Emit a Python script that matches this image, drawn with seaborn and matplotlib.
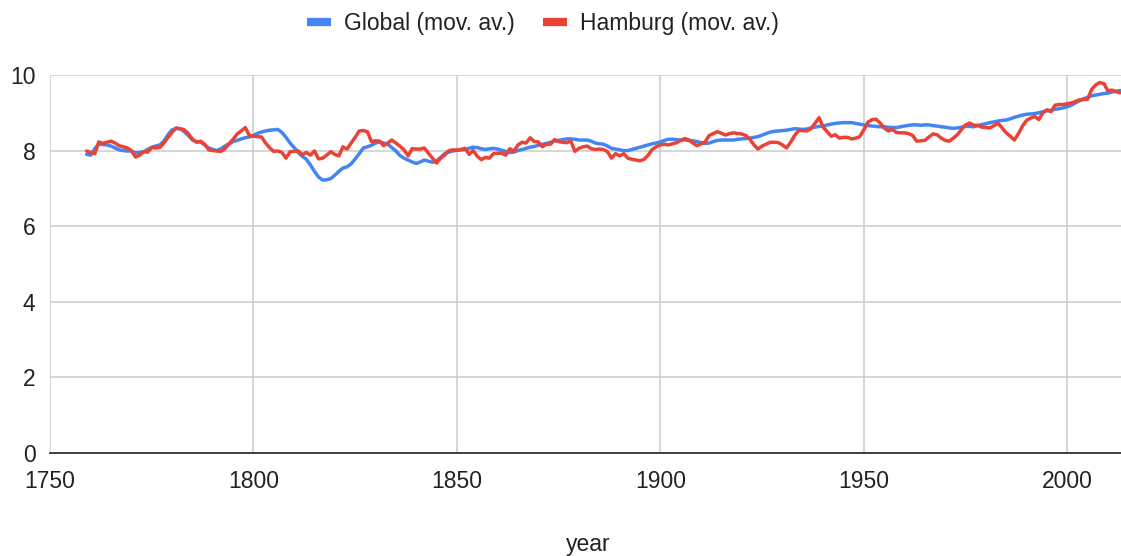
import numpy as np
import pandas as pd
import matplotlib
matplotlib.use("Agg")
import matplotlib.pyplot as plt
import seaborn as sns
from matplotlib.lines import Line2D

# ---------------- data ----------------
years = list(range(1759, 2014))

global_mov_av = [
    7.90, 7.88, 8.05, 8.17, 8.16, 8.15, 8.12, 8.07, 8.02, 8.00,  # 1759-1768
    7.99, 7.99, 7.94, 7.95, 7.97, 8.03, 8.09, 8.12, 8.15, 8.25,  # 1769-1778
    8.42, 8.55, 8.58, 8.58, 8.50, 8.40, 8.28, 8.24, 8.23, 8.15,  # 1779-1788
    8.07, 8.03, 8.00, 8.05, 8.12, 8.18, 8.24, 8.27, 8.31, 8.34,  # 1789-1798
    8.36, 8.40, 8.46, 8.49, 8.52, 8.54, 8.55, 8.56, 8.48, 8.35,  # 1799-1808
    8.20, 8.08, 7.95, 7.85, 7.77, 7.62, 7.45, 7.30, 7.22, 7.23,  # 1809-1818
    7.26, 7.35, 7.45, 7.54, 7.57, 7.65, 7.78, 7.92, 8.07, 8.10,  # 1819-1828
    8.14, 8.20, 8.23, 8.20, 8.17, 8.08, 7.99, 7.87, 7.80, 7.75,  # 1829-1838
    7.70, 7.66, 7.70, 7.75, 7.72, 7.69, 7.73, 7.82, 7.92, 7.96,  # 1839-1848
    7.99, 8.01, 8.02, 8.03, 8.06, 8.09, 8.08, 8.05, 8.03, 8.05,  # 1849-1858
    8.06, 8.04, 8.01, 7.98, 7.95, 7.96, 8.00, 8.03, 8.06, 8.09,  # 1859-1868
    8.11, 8.14, 8.17, 8.19, 8.22, 8.25, 8.27, 8.29, 8.31, 8.31,  # 1869-1878
    8.30, 8.28, 8.28, 8.28, 8.25, 8.20, 8.18, 8.17, 8.12, 8.06,  # 1879-1888
    8.04, 8.02, 8.00, 8.00, 8.03, 8.06, 8.09, 8.12, 8.15, 8.18,  # 1889-1898
    8.20, 8.23, 8.27, 8.30, 8.30, 8.29, 8.28, 8.28, 8.27, 8.26,  # 1899-1908
    8.24, 8.21, 8.19, 8.20, 8.24, 8.27, 8.28, 8.28, 8.28, 8.28,  # 1909-1918
    8.30, 8.31, 8.32, 8.33, 8.35, 8.37, 8.41, 8.45, 8.49, 8.51,  # 1919-1928
    8.52, 8.53, 8.54, 8.56, 8.58, 8.57, 8.56, 8.57, 8.60, 8.62,  # 1929-1938
    8.64, 8.65, 8.68, 8.70, 8.72, 8.73, 8.74, 8.74, 8.74, 8.72,  # 1939-1948
    8.70, 8.68, 8.66, 8.65, 8.64, 8.63, 8.63, 8.62, 8.61, 8.61,  # 1949-1958
    8.63, 8.65, 8.67, 8.68, 8.68, 8.67, 8.68, 8.68, 8.66, 8.65,  # 1959-1968
    8.63, 8.62, 8.60, 8.59, 8.60, 8.62, 8.64, 8.64, 8.63, 8.66,  # 1969-1978
    8.69, 8.71, 8.74, 8.76, 8.78, 8.80, 8.81, 8.84, 8.88, 8.91,  # 1979-1988
    8.94, 8.96, 8.97, 8.98, 9.00, 9.03, 9.05, 9.07, 9.09, 9.11,  # 1989-1998
    9.13, 9.16, 9.20, 9.26, 9.32, 9.37, 9.41, 9.45, 9.47, 9.49,  # 1999-2008
    9.51, 9.52, 9.55, 9.57, 9.59,                                # 2009-2013
]

hamburg_mov_av = [
    7.99, 7.95, 7.92, 8.23, 8.19, 8.22, 8.25, 8.20, 8.13, 8.10,  # 1759-1768
    8.07, 8.00, 7.83, 7.88, 7.97, 7.96, 8.08, 8.07, 8.08, 8.20,  # 1769-1778
    8.35, 8.48, 8.60, 8.58, 8.55, 8.45, 8.30, 8.22, 8.25, 8.17,  # 1779-1788
    8.02, 8.00, 7.99, 7.98, 8.05, 8.18, 8.30, 8.44, 8.52, 8.61,  # 1789-1798
    8.40, 8.38, 8.37, 8.36, 8.20, 8.07, 7.98, 7.99, 7.95, 7.80,  # 1799-1808
    7.97, 7.98, 7.99, 7.89, 7.95, 7.88, 7.99, 7.78, 7.80, 7.88,  # 1809-1818
    7.97, 7.90, 7.86, 8.10, 8.04, 8.20, 8.35, 8.52, 8.53, 8.50,  # 1819-1828
    8.24, 8.26, 8.25, 8.13, 8.20, 8.28, 8.20, 8.12, 8.02, 7.86,  # 1829-1838
    8.05, 8.04, 8.04, 8.07, 7.93, 7.80, 7.67, 7.80, 7.88, 8.00,  # 1839-1848
    8.02, 8.01, 8.03, 8.06, 7.90, 8.00, 7.85, 7.76, 7.82, 7.80,  # 1849-1858
    7.92, 7.93, 7.93, 7.88, 8.05, 7.98, 8.15, 8.22, 8.20, 8.34,  # 1859-1868
    8.24, 8.23, 8.10, 8.17, 8.17, 8.29, 8.24, 8.22, 8.21, 8.25,  # 1869-1878
    7.98, 8.06, 8.10, 8.12, 8.05, 8.03, 8.04, 8.03, 7.97, 7.80,  # 1879-1888
    7.92, 7.86, 7.92, 7.80, 7.77, 7.75, 7.73, 7.77, 7.88, 8.03,  # 1889-1898
    8.10, 8.15, 8.17, 8.15, 8.18, 8.21, 8.27, 8.32, 8.28, 8.20,  # 1899-1908
    8.13, 8.18, 8.23, 8.40, 8.45, 8.50, 8.46, 8.41, 8.45, 8.47,  # 1909-1918
    8.45, 8.44, 8.40, 8.30, 8.15, 8.04, 8.12, 8.17, 8.22, 8.22,  # 1919-1928
    8.21, 8.15, 8.07, 8.22, 8.40, 8.53, 8.53, 8.52, 8.58, 8.72,  # 1929-1938
    8.87, 8.62, 8.50, 8.38, 8.42, 8.33, 8.35, 8.35, 8.31, 8.33,  # 1939-1948
    8.37, 8.55, 8.75, 8.82, 8.83, 8.73, 8.60, 8.52, 8.56, 8.48,  # 1949-1958
    8.47, 8.47, 8.45, 8.40, 8.25, 8.26, 8.27, 8.36, 8.44, 8.42,  # 1959-1968
    8.33, 8.27, 8.25, 8.33, 8.42, 8.56, 8.68, 8.73, 8.67, 8.67,  # 1969-1978
    8.62, 8.61, 8.60, 8.66, 8.72, 8.60, 8.47, 8.38, 8.28, 8.45,  # 1979-1988
    8.65, 8.80, 8.86, 8.90, 8.82, 9.00, 9.08, 9.03, 9.20, 9.22,  # 1989-1998
    9.22, 9.24, 9.26, 9.30, 9.34, 9.35, 9.36, 9.62, 9.74, 9.80,  # 1999-2008
    9.77, 9.58, 9.60, 9.56, 9.53,                                # 2009-2013
]

series_names = ["Global (mov. av.)", "Hamburg (mov. av.)"]
x_ticks = [1750, 1800, 1850, 1900, 1950, 2000]
y_ticks = [0, 2, 4, 6, 8, 10]
x_label = "year"

# ---------------- styling ----------------
BLUE = "#4285F4"
RED = "#EA4335"
TEXT = "#222222"
FS = 16.5

sns.set_style("white")
plt.rcParams["font.family"] = ["Liberation Sans", "DejaVu Sans"]

n = len(years)
df = pd.DataFrame({
    "year": years + years,
    "value": global_mov_av + hamburg_mov_av,
    "series": [series_names[0]] * n + [series_names[1]] * n,
})

W, H = 1121, 556
fig = plt.figure(figsize=(W / 100, H / 100), dpi=100)
ax = fig.add_axes([50 / W, 103 / H, 1071 / W, 378 / H])

sns.lineplot(data=df, x="year", y="value", hue="series",
             hue_order=series_names, palette=[BLUE, RED],
             linewidth=2.5, ax=ax, legend=False)

ax.set_xlim(1750, 2013.2)
ax.set_ylim(0, 10)
ax.set_xticks(x_ticks)
ax.set_yticks(y_ticks)
ax.set_xticklabels([str(t) for t in x_ticks])
ax.set_yticklabels([str(t) for t in y_ticks])
ax.grid(True, color="#cccccc", linewidth=1.1)
ax.set_axisbelow(True)
for s in ["top", "right", "left"]:
    ax.spines[s].set_visible(False)
ax.spines["bottom"].set_color("#333333")
ax.spines["bottom"].set_linewidth(1.3)
ax.spines["bottom"].set_zorder(5)

ax.tick_params(axis="x", length=0, labelsize=FS, labelcolor=TEXT, pad=12.5)
ax.tick_params(axis="y", length=0, labelsize=FS, labelcolor=TEXT, pad=10.5)

ax.set_ylabel("")
ax.set_xlabel(x_label, fontsize=FS, color=TEXT)
ax.xaxis.set_label_coords((588 - 50) / 1071, -0.212)

handles = [Line2D([0], [0], color=c, linewidth=6, solid_capstyle="butt")
           for c in [BLUE, RED]]
fig.legend(handles, series_names, loc="center",
           bbox_to_anchor=(543 / W, 1 - 23.5 / H), ncol=2, frameon=False,
           fontsize=FS, handlelength=1.05, handletextpad=0.6,
           columnspacing=1.2, labelcolor=TEXT)

fig.savefig("out.png", dpi=100)
